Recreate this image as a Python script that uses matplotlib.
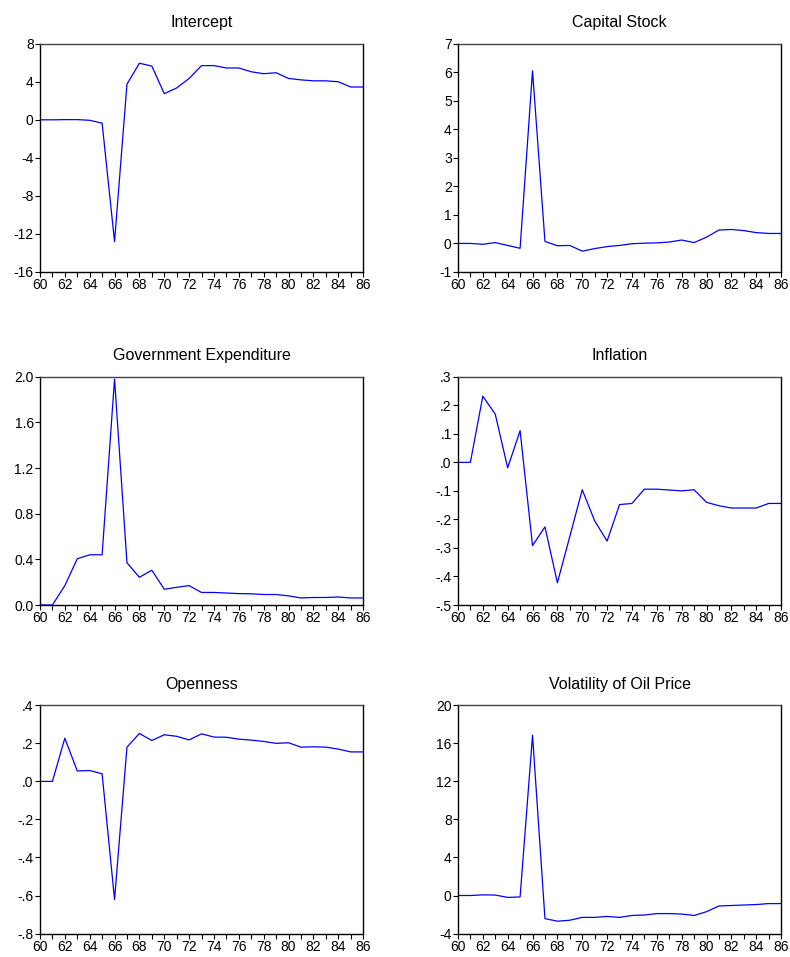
import matplotlib.pyplot as plt
import numpy as np

plt.rcParams['font.family'] = ['Liberation Sans', 'DejaVu Sans']

years = list(range(60, 87))

intercept = [0, 0, 0.02, 0.02, -0.05, -0.35, -12.8, 3.75, 5.95, 5.65, 2.75, 3.35, 4.35,
             5.7, 5.7, 5.45, 5.45, 5.05, 4.85, 4.95, 4.35, 4.2, 4.1, 4.1, 4.0, 3.45, 3.45]
capital = [0, 0, -0.03, 0.03, -0.07, -0.17, 6.05, 0.07, -0.08, -0.07, -0.27, -0.18, -0.11,
           -0.07, -0.01, 0.01, 0.02, 0.05, 0.12, 0.03, 0.22, 0.47, 0.49, 0.45, 0.38, 0.35, 0.35]
gov_exp = [0, 0, 0.17, 0.405, 0.44, 0.44, 1.98, 0.37, 0.243, 0.305, 0.138, 0.155, 0.17,
           0.11, 0.11, 0.105, 0.1, 0.098, 0.092, 0.092, 0.08, 0.062, 0.066, 0.066, 0.07, 0.062, 0.062]
inflation = [0, 0, 0.232, 0.169, -0.019, 0.111, -0.292, -0.226, -0.422, -0.26, -0.096, -0.205, -0.276,
             -0.148, -0.144, -0.094, -0.094, -0.097, -0.1, -0.096, -0.14, -0.152, -0.16, -0.16, -0.16, -0.144, -0.144]
openness = [0, 0, 0.227, 0.055, 0.057, 0.04, -0.621, 0.18, 0.252, 0.215, 0.245, 0.237, 0.218,
            0.25, 0.233, 0.232, 0.222, 0.217, 0.21, 0.2, 0.203, 0.18, 0.182, 0.18, 0.17, 0.155, 0.155]
oil_vol = [0, 0, 0.07, 0.05, -0.2, -0.15, 16.85, -2.43, -2.7, -2.6, -2.3, -2.3, -2.2,
           -2.3, -2.1, -2.05, -1.9, -1.9, -1.95, -2.1, -1.7, -1.1, -1.05, -1.0, -0.95, -0.85, -0.85]

titles = ["Intercept", "Capital Stock", "Government Expenditure", "Inflation",
          "Openness", "Volatility of Oil Price"]
series = [intercept, capital, gov_exp, inflation, openness, oil_vol]
yticks = [
    [-16, -12, -8, -4, 0, 4, 8],
    [-1, 0, 1, 2, 3, 4, 5, 6, 7],
    [0.0, 0.4, 0.8, 1.2, 1.6, 2.0],
    [-0.5, -0.4, -0.3, -0.2, -0.1, 0.0, 0.1, 0.2, 0.3],
    [-0.8, -0.6, -0.4, -0.2, 0.0, 0.2, 0.4],
    [-4, 0, 4, 8, 12, 16, 20],
]
ylabels = [
    ["-16", "-12", "-8", "-4", "0", "4", "8"],
    ["-1", "0", "1", "2", "3", "4", "5", "6", "7"],
    ["0.0", "0.4", "0.8", "1.2", "1.6", "2.0"],
    ["-.5", "-.4", "-.3", "-.2", "-.1", ".0", ".1", ".2", ".3"],
    ["-.8", "-.6", "-.4", "-.2", ".0", ".2", ".4"],
    ["-4", "0", "4", "8", "12", "16", "20"],
]

fig = plt.figure(figsize=(7.9, 9.57), dpi=100)
lefts = [0.0506, 0.5797]
bottoms = [0.7158, 0.3678, 0.0245]
w, h = 0.409, 0.2385

for i in range(6):
    row, col = i // 2, i % 2
    ax = fig.add_axes([lefts[col], bottoms[row], w, h])
    ax.plot(years, series[i], color='#0000ff', lw=0.9)
    ax.set_xlim(60, 86)
    ax.set_ylim(yticks[i][0], yticks[i][-1])
    ax.set_xticks(years)
    ax.set_xticklabels([str(y) if y % 2 == 0 else "" for y in years])
    ax.set_yticks(yticks[i])
    ax.set_yticklabels(ylabels[i])
    ax.tick_params(labelsize=10, length=3.5, width=0.8, pad=1)
    for s in ax.spines.values():
        s.set_linewidth(1.0)
    ax.spines['top'].set_color('#444444')
    ax.set_title(titles[i], fontsize=11.5, pad=12)

plt.savefig("out.png", dpi=100)
